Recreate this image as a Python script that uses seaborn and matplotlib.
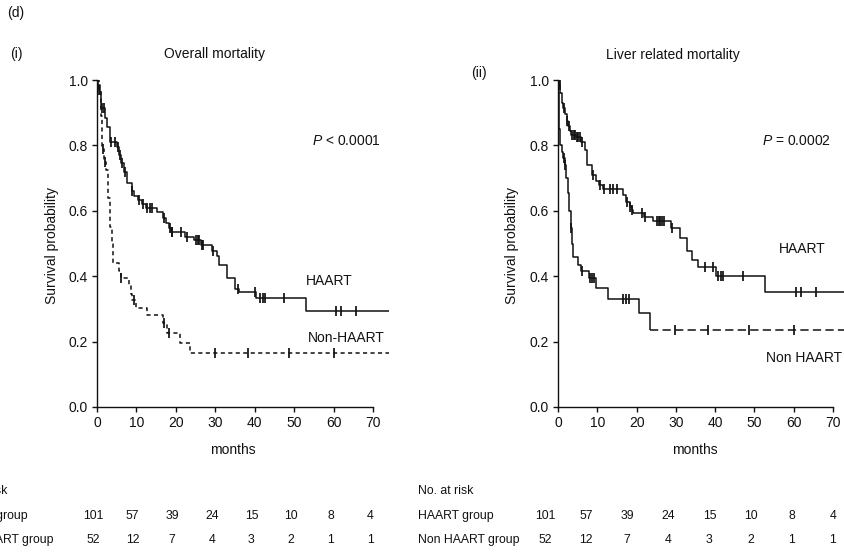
import numpy as np
import pandas as pd
import matplotlib
matplotlib.use("Agg")
import matplotlib.pyplot as plt
import seaborn as sns

# ---- Kaplan-Meier step data (months, survival probability) ----
# (i) Overall mortality
overall_haart_t = [0, 0.3, 0.7, 1.1, 2.1, 2.6, 3.2, 5.0, 5.6, 6.1, 6.8, 7.5, 8.8, 9.5, 10.5,
                   11.5, 12.4, 15.2, 16.7, 17.6, 18.2, 18.8, 22.4, 24.6, 26.4, 29.2, 30.4,
                   31.0, 32.9, 35.0, 36.0, 40.4, 52.9, 74]
overall_haart_s = [1.0, 0.985, 0.96, 0.915, 0.885, 0.855, 0.81, 0.795, 0.77, 0.745, 0.72,
                   0.686, 0.66, 0.645, 0.633, 0.62, 0.61, 0.597, 0.578, 0.562, 0.548, 0.536,
                   0.52, 0.51, 0.495, 0.476, 0.461, 0.435, 0.393, 0.362, 0.352, 0.332, 0.295,
                   0.295]
overall_haart_cens = [1.3, 1.8, 3.6, 4.5, 5.3, 5.8, 6.4, 7.0, 9.0, 10.7, 11.6, 12.8, 13.5,
                      13.9, 17.0, 18.4, 18.9, 19.1, 21.4, 22.8, 25.0, 25.5, 25.9, 26.6, 27.0,
                      29.5, 35.8, 40.0, 41.3, 42.0, 42.5, 47.3, 60.5, 61.9, 65.7]

overall_non_t = [0, 0.4, 0.9, 1.3, 1.8, 2.2, 2.7, 3.2, 3.7, 4.1, 5.5, 6.0, 8.2, 8.6, 9.0,
                 10.0, 12.6, 16.8, 17.8, 21.0, 23.6, 74]
overall_non_s = [1.0, 0.97, 0.89, 0.79, 0.75, 0.725, 0.64, 0.55, 0.5, 0.44, 0.415, 0.393,
                 0.37, 0.347, 0.327, 0.302, 0.281, 0.256, 0.225, 0.195, 0.164, 0.164]
overall_non_cens = [0.5, 1.5, 2.0, 6.2, 9.4, 17.0, 18.3, 29.9, 38.2, 48.7, 60.1]

# (ii) Liver related mortality
liver_haart_t = [0, 0.2, 0.6, 1.0, 1.3, 1.8, 2.2, 2.6, 3.0, 3.4, 4.6, 5.8, 6.8, 7.3, 8.6,
                 9.6, 10.4, 11.5, 16.6, 17.3, 18.2, 18.8, 19.2, 21.8, 24.3, 28.7, 31.0,
                 32.9, 34.0, 35.6, 40.3, 52.7, 74]
liver_haart_s = [1.0, 0.985, 0.96, 0.93, 0.913, 0.895, 0.875, 0.86, 0.845, 0.832, 0.825,
                 0.81, 0.786, 0.74, 0.71, 0.69, 0.68, 0.667, 0.648, 0.628, 0.613, 0.603,
                 0.593, 0.58, 0.568, 0.546, 0.516, 0.476, 0.45, 0.427, 0.4, 0.352, 0.352]
liver_haart_cens = [0.4, 1.5, 2.4, 2.9, 3.6, 4.0, 4.3, 4.9, 5.2, 5.5, 6.1, 8.9, 10.6, 11.8,
                    13.3, 14.1, 14.9, 17.6, 18.4, 18.9, 21.3, 22.1, 25.1, 25.6, 26.0, 26.5,
                    27.0, 29.0, 37.4, 39.5, 40.8, 41.6, 42.0, 47.2, 60.5, 61.8, 65.6]

liver_non_t = [0, 0.1, 0.2, 0.35, 0.5, 1.0, 1.3, 1.7, 2.1, 2.5, 2.9, 3.3, 3.6, 3.9, 5.2,
               5.8, 7.9, 9.7, 12.8, 20.5, 23.4]
liver_non_s = [1.0, 0.96, 0.9, 0.85, 0.8, 0.78, 0.76, 0.74, 0.70, 0.654, 0.60, 0.546, 0.50,
               0.46, 0.434, 0.415, 0.393, 0.365, 0.33, 0.287, 0.236]
liver_non_tail_t = [23.4, 74]
liver_non_tail_s = [0.236, 0.236]
liver_non_cens = [1.4, 1.9, 3.4, 6.0, 8.1, 8.6, 9.2, 16.6, 17.3, 18.0, 29.9, 38.1, 48.6, 60.1]

# Numbers at risk
risk_months = [0, 10, 20, 30, 40, 50, 60, 70]
risk_haart = [101, 57, 39, 24, 15, 10, 8, 4]
risk_non_haart = [52, 12, 7, 4, 3, 2, 1, 1]

xticks = [0, 10, 20, 30, 40, 50, 60, 70]
yticks = [0.0, 0.2, 0.4, 0.6, 0.8, 1.0]

# ---- styling ----
sns.set_theme(style="white")
plt.rcParams["font.family"] = ["Liberation Sans", "DejaVu Sans"]
plt.rcParams["mathtext.fontset"] = "custom"
plt.rcParams["mathtext.it"] = "Liberation Sans:italic"
plt.rcParams["mathtext.rm"] = "Liberation Sans"
narrow = ["Liberation Sans Narrow", "Liberation Sans", "DejaVu Sans"]

INK = "#111111"
W, H = 845, 552
fig = plt.figure(figsize=(W / 100, H / 100), dpi=100)
fig.patch.set_facecolor("white")


def fpos(x, y):
    return x / W, 1 - y / H


def km_line(ax, t, s, dashes=None):
    df = pd.DataFrame({"t": t, "s": s})
    n_before = len(ax.lines)
    sns.lineplot(data=df, x="t", y="s", drawstyle="steps-post", estimator=None,
                 sort=False, color=INK, linewidth=1.1, ax=ax)
    for ln in ax.lines[n_before:]:
        ln.set_solid_capstyle("butt")
        if dashes is not None:
            ln.set_dashes(dashes)


def censor_marks(ax, t_steps, s_steps, cens):
    idx = np.searchsorted(np.asarray(t_steps), np.asarray(cens), side="right") - 1
    yv = np.asarray(s_steps)[idx]
    sns.scatterplot(x=cens, y=yv, marker="|", s=48, color=INK, linewidth=1.25, ax=ax,
                    zorder=3)


def style_axes(ax):
    ax.set_xlim(0, 74.5)
    ax.set_ylim(0, 1.0)
    ax.set_xticks(xticks)
    ax.set_yticks(yticks)
    ax.set_yticklabels([f"{v:.1f}" for v in yticks])
    for side in ("top", "right"):
        ax.spines[side].set_visible(False)
    for side in ("left", "bottom"):
        ax.spines[side].set_color(INK)
        ax.spines[side].set_linewidth(1.0)
    ax.spines["bottom"].set_bounds(0, 70)
    ax.spines["left"].set_bounds(0, 1.0)
    ax.tick_params(axis="both", direction="out", length=3.6, width=1.0, color=INK,
                   labelsize=10, labelcolor=INK, pad=3, bottom=True, left=True)
    ax.set_xlabel("")
    ax.set_ylabel("")
    ax.set_facecolor("none")
    ax.grid(False)


# Panel axes
axL = fig.add_axes([97 / W, 1 - 407 / H, 74.5 * 3.943 / W, 327 / H])
axR = fig.add_axes([558 / W, 1 - 407 / H, 74.5 * 3.929 / W, 327 / H])

# (i) Overall mortality
km_line(axL, overall_haart_t, overall_haart_s)
km_line(axL, overall_non_t, overall_non_s, dashes=(2.7, 2.2))
censor_marks(axL, overall_haart_t, overall_haart_s, overall_haart_cens)
censor_marks(axL, overall_non_t, overall_non_s, overall_non_cens)
style_axes(axL)

# (ii) Liver related mortality
km_line(axR, liver_haart_t, liver_haart_s)
km_line(axR, liver_non_t, liver_non_s)
km_line(axR, liver_non_tail_t, liver_non_tail_s, dashes=(5.4, 2.8))
censor_marks(axR, liver_haart_t, liver_haart_s, liver_haart_cens)
censor_marks(axR, liver_non_t + [74], liver_non_s + [0.236], liver_non_cens)
style_axes(axR)

# ---- labels ----
def ftext(x, y, s, **kw):
    kw.setdefault("fontsize", 10)
    kw.setdefault("color", INK)
    kw.setdefault("ha", "center")
    kw.setdefault("va", "center")
    fig.text(*fpos(x, y), s, **kw)


ftext(16, 13, "(d)")
ftext(16, 54, "(i)")
ftext(215, 54, "Overall mortality")
ftext(479, 73, "(ii)")
ftext(673, 55, "Liver related mortality")

ftext(52, 245, "Survival probability", rotation=90)
ftext(512, 245, "Survival probability", rotation=90)
ftext(233, 450, "months")
ftext(695, 450, "months")

ftext(346, 141, r"$P$ < 0.0001")
ftext(796, 141, r"$P$ = 0.0002")

ftext(329, 281, "HAART")
ftext(346, 338, "Non-HAART")
ftext(802, 249, "HAART")
ftext(804, 358, "Non HAART")

# ---- numbers at risk tables (left block runs past the page edge) ----
TBL = 8.8
for label_x, num_x0, num_dx in ((-48, 93, 39.6), (418, 545, 41.1)):
    ftext(label_x, 491, "No. at risk", ha="left", family=narrow, fontsize=TBL)
    ftext(label_x, 516, "HAART group", ha="left", family=narrow, fontsize=TBL)
    ftext(label_x, 540, "Non HAART group", ha="left", family=narrow, fontsize=TBL)
    for k, (m, a, b) in enumerate(zip(risk_months, risk_haart, risk_non_haart)):
        x = num_x0 + num_dx * k
        ftext(x, 516, str(a), family=narrow, fontsize=TBL)
        ftext(x, 540, str(b), family=narrow, fontsize=TBL)

fig.savefig("out.png", dpi=100, facecolor="white")
